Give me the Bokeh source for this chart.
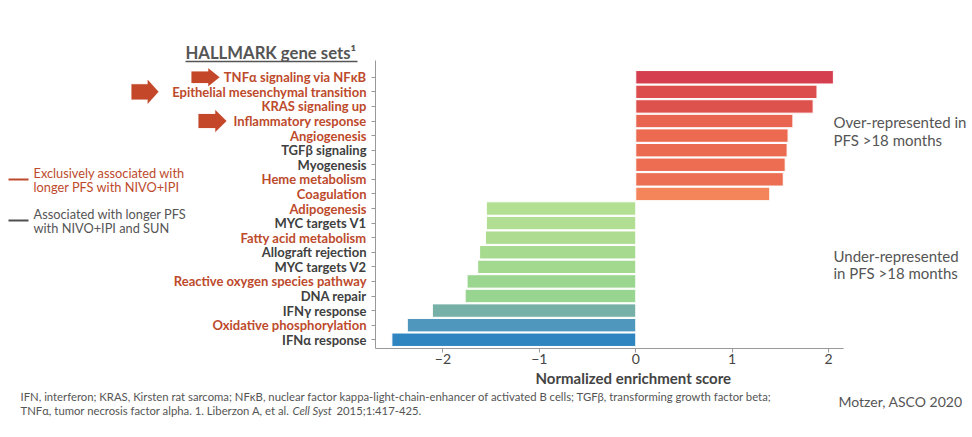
from bokeh.plotting import figure
from bokeh.layouts import column, row
from bokeh.models import (ColumnDataSource, LabelSet, Label, FixedTicker, PolyAnnotation, Arrow,
                          Range1d, Title)
from bokeh.core.properties import value
from bokeh.embed import file_html
from bokeh.resources import INLINE

# ---------------- data (top to bottom) ----------------
gene_sets = ["TNFα signaling via NFκB", "Epithelial mesenchymal transition", "KRAS signaling up",
             "Inflammatory response", "Angiogenesis", "TGFβ signaling", "Myogenesis",
             "Heme metabolism", "Coagulation", "Adipogenesis", "MYC targets V1",
             "Fatty acid metabolism", "Allograft rejection", "MYC targets V2",
             "Reactive oxygen species pathway", "DNA repair", "IFNγ response",
             "Oxidative phosphorylation", "IFNα response"]
nes = [2.05, 1.88, 1.84, 1.63, 1.58, 1.57, 1.55, 1.53, 1.39,
       -1.55, -1.55, -1.56, -1.62, -1.64, -1.75, -1.77, -2.11, -2.37, -2.53]
exclusive = [True, True, True, True, True, False, False, True, True,
             True, False, True, False, False, True, False, False, True, False]
bar_colors = ["#d53e4f", "#dc4e4e", "#de524e", "#e9654f", "#eb6a50", "#eb6b51", "#ec6d52",
              "#ec6f53", "#f4845a", "#b3df93", "#b1de92", "#aedd91", "#a6da8f", "#a2d98f",
              "#9bd690", "#98d590", "#76b0a6", "#4f97bc", "#2f85c0"]
x_ticks = [-2, -1, 0, 1, 2]
arrow_rows = ["TNFα signaling via NFκB", "Epithelial mesenchymal transition", "Inflammatory response"]

RED = "#bd4a2c"
GRAY = "#404040"
TXT = "#555555"
FONT = "Lato"

# ---------------- layout ----------------
W, H = 972, 437
TOP_H = 387                 # height of the upper row
LEFT_W = 367                # width of the label panel
L, R, T, B = 375, 843, 60, 348   # plot frame in page pixels (axis extent)
X0, X1 = -2.70, 2.155
Y0, Y1 = -0.6, 19.15
unit_x = (R - L) / (X1 - X0)
unit_y = (B - T) / (Y1 - Y0)
YT = Y1 + T / unit_y        # value at the page top
XR = X0 + (W - L) / unit_x  # value at the page right edge

def dx(px):
    return X0 + (px - L) / unit_x

def dy(py):
    return YT - py / unit_y

n = len(gene_sets)
rows = [n - 1 - i for i in range(n)]
lbl_colors = [RED if e else GRAY for e in exclusive]

yr = Range1d(Y0, YT)
src = ColumnDataSource(dict(y=rows, nes=nes, zero=[0] * n, color=bar_colors,
                            name=gene_sets, lcolor=lbl_colors, xl=[LEFT_W - 1] * n))

# ---------------- main bar chart ----------------
p = figure(width=W - LEFT_W, height=TOP_H, output_backend="svg", toolbar_location=None,
           x_range=Range1d(X0, XR), y_range=yr,
           min_border_left=L - LEFT_W, min_border_right=0, min_border_top=0,
           min_border_bottom=TOP_H - B)
p.outline_line_color = None
p.xgrid.visible = False
p.ygrid.visible = False

p.hbar(y="y", left="zero", right="nes", height=0.92, fill_color="color",
       line_color="white", line_width=1, source=src)

p.xaxis.bounds = (X0, X1)
p.xaxis.ticker = FixedTicker(ticks=x_ticks)
p.xaxis.major_label_overrides = {t: (("\u2212" + str(abs(t))) if t < 0 else str(t)) for t in x_ticks}
p.xaxis.major_label_text_font = FONT
p.xaxis.major_label_text_font_size = "14px"
p.xaxis.major_label_text_color = "#444444"
p.xaxis.major_label_standoff = 1
p.xaxis.minor_tick_line_color = None
p.xaxis.major_tick_in = 0
p.xaxis.major_tick_out = 4
p.xaxis.axis_line_color = "#999999"
p.xaxis.major_tick_line_color = "#999999"

# axis title placed under the axis extent (not the wider frame)
p.add_layout(Title(text="Normalized enrichment score", align="left",
                   offset=160, text_font=FONT, text_font_size="15px",
                   text_font_style="bold", text_color="#444444", standoff=0), "below")

p.yaxis.bounds = (Y0, Y1)
p.yaxis.ticker = FixedTicker(ticks=rows)
p.yaxis.major_label_overrides = {r: "" for r in rows}
p.yaxis.major_label_standoff = 0
p.yaxis.minor_tick_line_color = None
p.yaxis.major_tick_in = 0
p.yaxis.major_tick_out = 4
p.yaxis.axis_line_color = "#999999"
p.yaxis.major_tick_line_color = "#999999"

for (ty, t) in [(121, "Over-represented in"), (139, "PFS >18 months"),
                (255, "Under-represented"), (272, "in PFS >18 months")]:
    p.add_layout(Label(x=dx(833), y=dy(ty), text=t, text_font=FONT, text_font_size="15px",
                       text_color=TXT, text_baseline="middle"))

# ---------------- left panel: labels, title, legend, arrows ----------------
lp = figure(width=LEFT_W, height=TOP_H, output_backend="svg", toolbar_location=None,
            x_range=Range1d(0, LEFT_W), y_range=yr, x_axis_type=None, y_axis_type=None,
            min_border_left=0, min_border_right=0, min_border_top=0,
            min_border_bottom=TOP_H - B)
lp.outline_line_color = None
lp.xgrid.visible = False
lp.ygrid.visible = False

lp.add_layout(LabelSet(x="xl", y="y", text="name", text_color="lcolor", source=src,
                       text_align="right", text_baseline="middle",
                       text_font=value(FONT), text_font_size=value("13px"),
                       text_font_style="bold"))

arrow_geo = {  # left px, right px, height px
    "TNFα signaling via NFκB": (191, 219, 18),
    "Epithelial mesenchymal transition": (131, 158, 24),
    "Inflammatory response": (198, 226, 22),
}
for g in arrow_rows:
    xl, xr, hh = arrow_geo[g]
    yc = rows[gene_sets.index(g)]
    hd = hh / unit_y
    body = hd * 0.32
    xm = xl + (xr - xl) * 0.6
    xs = [xl, xm, xm, xr, xm, xm, xl]
    ys = [yc + body, yc + body, yc + hd / 2, yc, yc - hd / 2, yc - body, yc - body]
    lp.add_layout(PolyAnnotation(xs=xs, ys=ys, fill_color="#c4472a", fill_alpha=1,
                                 line_color="#c4472a", line_width=0.5))

lp.add_layout(Label(x=185, y=dy(52), text="HALLMARK gene sets\u00b9", text_font=FONT,
                    text_font_size="16.7px", text_font_style="bold", text_color=TXT,
                    text_baseline="middle"))
lp.add_layout(Arrow(start=None, end=None, x_start=185, x_end=357, y_start=dy(61), y_end=dy(61),
                    line_color=TXT, line_width=1.5))

for (ly, lines, col, lc) in [(179, ["Exclusively associated with", "longer PFS with NIVO+IPI"], RED, RED),
                             (220, ["Associated with longer PFS", "with NIVO+IPI and SUN"], TXT, "#505050")]:
    lp.add_layout(Arrow(start=None, end=None, x_start=8, x_end=28, y_start=dy(ly), y_end=dy(ly),
                        line_color=lc, line_width=2))
    for k, t in enumerate(lines):
        lp.add_layout(Label(x=33, y=dy(ly - 7 + 14 * k), text=t, text_font=FONT,
                            text_font_size="12.8px", text_color=col, text_baseline="middle"))

# ---------------- footer ----------------
FH = H - TOP_H
fp = figure(width=W, height=FH, output_backend="svg", toolbar_location=None,
            x_range=Range1d(0, W), y_range=Range1d(FH, 0), x_axis_type=None, y_axis_type=None,
            min_border=0)
fp.outline_line_color = None
fp.xgrid.visible = False
fp.ygrid.visible = False

def foot(x, y, t, style="normal", size="11.3px"):
    fp.add_layout(Label(x=x, y=y - TOP_H, text=t, text_font=FONT, text_font_size=size,
                        text_font_style=style, text_color=TXT, text_baseline="middle"))

foot(20, 396, "IFN, interferon; KRAS, Kirsten rat sarcoma; NFκB, nuclear factor "
     "kappa-light-chain-enhancer of activated B cells; TGFβ, transforming growth factor beta;")
foot(20, 410, "TNFα, tumor necrosis factor alpha. 1. Liberzon A, et al.")
foot(292, 410, "Cell Syst", style="italic")
foot(336, 410, "2015;1:417-425.")
foot(838, 401, "Motzer, ASCO 2020", size="14px")

layout = column(row(lp, p), fp)
open("out.html", "w").write(file_html(layout, INLINE))
